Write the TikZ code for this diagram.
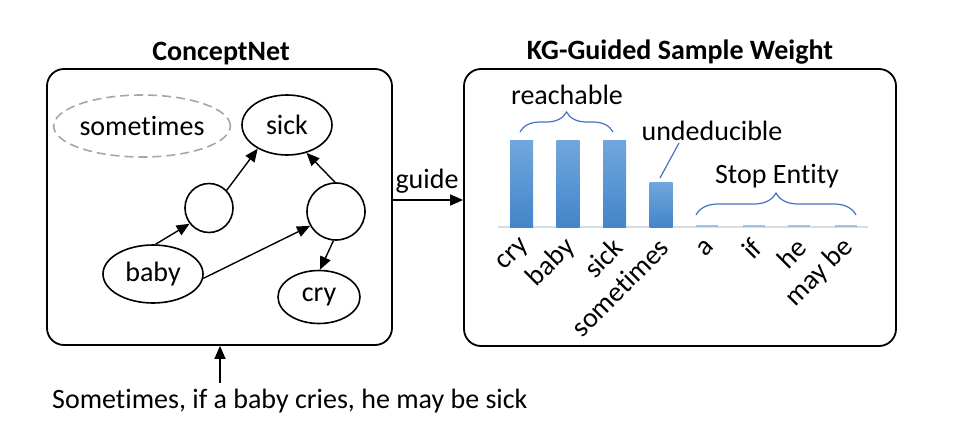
\documentclass[tikz,border=0pt]{standalone}
\usepackage{fontspec}
\setmainfont{Carlito}[Ligatures={NoCommon}]
\usetikzlibrary{arrows.meta,shapes.geometric,decorations.pathreplacing}
\definecolor{barTop}{HTML}{72A7DD}
\definecolor{barBot}{HTML}{4285C9}
\definecolor{axisCol}{HTML}{D6DCE5}
\definecolor{stopCol}{HTML}{9DC3E6}
\definecolor{braceCol}{HTML}{4472C4}
\definecolor{dashCol}{HTML}{A6A6A6}
\begin{document}
\begin{tikzpicture}[x=1pt,y=-1pt,
  every node/.style={font=\fontsize{28}{33}\selectfont, inner sep=0pt},
  panel/.style={draw, line width=1.8pt, rounded corners=17pt},
  gnode/.style={ellipse, draw, line width=1.6pt, inner sep=0pt},
  arr/.style={-{Triangle[length=13pt,width=11pt]}, line width=1.4pt},
  bluebrace/.style={draw=braceCol, line width=1.2pt, decorate},
  bar/.style={top color=barTop, bottom color=barBot},
  xlabel/.style={rotate=45, anchor=east}
]
\useasboundingbox (0,0) rectangle (970,426);

% panels
\node[panel, minimum width=345pt, minimum height=276pt] (cn) at (219.5,207) {};
\node[panel, minimum width=432pt, minimum height=277pt] (kw) at (680,207.5) {};

% titles
\node[font=\bfseries\fontsize{28}{33}\selectfont, anchor=base] (t1) at (221,60) {ConceptNet};
\node[font=\bfseries\fontsize{28}{33}\selectfont, anchor=base] (t2) at (680,59) {KG-Guided Sample Weight};

% graph nodes
\node[gnode, draw=dashCol, dash pattern=on 9pt off 5pt, minimum width=149pt, minimum height=62pt] (some) at (142,126) {sometimes};
\node[gnode, minimum width=90pt, minimum height=60pt] (sick) at (287,125) {sick};
\node[gnode, minimum width=48pt, minimum height=49pt] (c1) at (209,208) {};
\node[gnode, minimum width=58pt, minimum height=57pt] (c2) at (336,211.5) {};
\node[gnode, minimum width=100pt, minimum height=58pt] (baby) at (153,274) {baby};
\node[gnode, minimum width=82pt, minimum height=53pt] (cry) at (319,297) {cry};

\draw[arr] (baby.85) -- (c1.219);
\draw[arr] (c1.45) -- (sick.219);
\draw[arr] (baby.355) -- (c2.209);
\draw[arr] (c2.92) -- (sick.305);
\draw[arr] (c2.265) -- (cry.88);

% guide
\node[anchor=base] (gl) at (427,188) {guide};
\coordinate (gy) at (428,200);
\draw[arr] (cn.east |- gy) -- (kw.west |- gy);

% sentence
\node[anchor=base west] (sent) at (52,408) {Sometimes, if a baby cries, he may be sick};
\coordinate (src) at (220,383);
\draw[arr] (src) -- (src |- cn.south);

% chart
\draw[axisCol, line width=1.5pt] (498,227) -- (868,227);
\shade[bar] (510,140) rectangle (533,227);
\shade[bar] (556.5,140) rectangle (579.5,227);
\shade[bar] (603,140) rectangle (626,227);
\shade[bar] (649.5,182) rectangle (672.5,227);
\fill[stopCol] (696,224.5) rectangle (718,227);
\fill[stopCol] (743,224.5) rectangle (765,227);
\fill[stopCol] (788,224.5) rectangle (810,227);
\fill[stopCol] (835,224.5) rectangle (857,227);

\node[xlabel] (l1) at (526,243) {cry};
\node[xlabel] (l2) at (571,243) {baby};
\node[xlabel] (l3) at (618,243) {sick};
\node[xlabel] (l4) at (664,243) {sometimes};
\node[xlabel] (l5) at (710,243) {a};
\node[xlabel] (l6) at (757,243) {if};
\node[xlabel] (l7) at (802,243) {he};
\node[xlabel] (l8) at (849,243) {may be};

% annotations
\node[anchor=base] (reach) at (567,104) {reachable};
\draw[bluebrace, decoration={brace, amplitude=20pt}] (520,132) -- (613,132);
\node[anchor=base] (und) at (712,140) {undeducible};
\coordinate (u1) at (679,143);
\coordinate (u2) at (660,178);
\draw[braceCol, line width=1.2pt] (u1) -- (u2);
\node[anchor=base] (stop) at (777,183) {Stop Entity};
\draw[bluebrace, decoration={brace, amplitude=22pt}] (696,215) -- (856,215);
\end{tikzpicture}
\end{document}
